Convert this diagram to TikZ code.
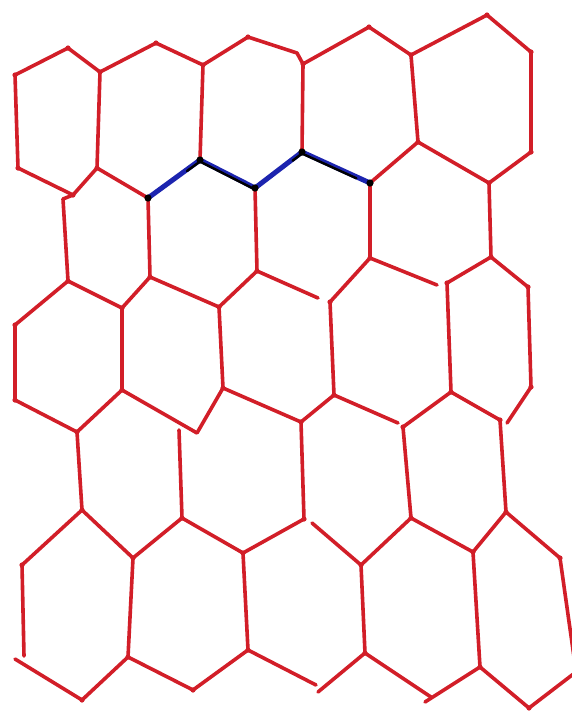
\documentclass[tikz,border=0pt]{standalone}
\usepackage{tikz}
\usetikzlibrary{calc}
\definecolor{inkred}{RGB}{210,30,40}
\definecolor{inkblue}{RGB}{28,36,175}
\tikzset{
  cell/.style={draw=inkred, line width=3.6pt, line join=round, line cap=round},
  bond/.style={draw=inkblue, line width=5pt, line join=round, line cap=round},
  bondblack/.style={draw=black, line width=2.4pt, line join=round, line cap=round},
}
\begin{document}
\begin{tikzpicture}[x=1pt,y=-1pt]
\useasboundingbox (0,0) rectangle (572,713);
\fill[white] (0,0) rectangle (572,713);
% ---- row A
\coordinate (A1t) at (68,48);
\coordinate (A2t) at (156,43);
\coordinate (A3t) at (248,37);
\coordinate (A4t) at (369,27);
\coordinate (A5t) at (487,15);
\coordinate (U0) at (15,75);
\coordinate (U1) at (100,72);
\coordinate (U2) at (203,65);
\coordinate (K3) at (297,53);
\coordinate (U3) at (303,64);
\coordinate (U4) at (411,55);
\coordinate (U5) at (531,52);
\coordinate (L0) at (18,168);
\coordinate (L1) at (97,168);
\coordinate (L2) at (200,160);
\coordinate (L3) at (302,152);
\coordinate (L4) at (418,142);
\coordinate (L5) at (531,152);
\coordinate (B0) at (73,195);
\coordinate (B0b) at (63,199);
\coordinate (B1) at (148,198);
\coordinate (B2) at (255,188);
\coordinate (B3) at (370,183);
\coordinate (B4) at (489,183);
% ---- row B
\coordinate (C0) at (68,281);
\coordinate (C1) at (150,277);
\coordinate (C2) at (257,271);
\coordinate (C3) at (370,258);
\coordinate (C4) at (491,257);
\coordinate (D0) at (15,325);
\coordinate (D1) at (122,308);
\coordinate (D2) at (219,307);
\coordinate (D3a) at (318,298);
\coordinate (D3b) at (330,302);
\coordinate (D4a) at (437,285);
\coordinate (D4b) at (447,283);
\coordinate (D5) at (528,287);
% ---- row C
\coordinate (E0) at (15,400);
\coordinate (E1) at (122,390);
\coordinate (E2) at (223,388);
\coordinate (E3) at (334,395);
\coordinate (E4) at (451,392);
\coordinate (E5) at (531,387);
\coordinate (F1) at (77,432);
\coordinate (F2a) at (197,433);
\coordinate (F2b) at (179,430);
\coordinate (F3) at (301,422);
\coordinate (F4a) at (398,423);
\coordinate (F4b) at (403,427);
\coordinate (F5a) at (500,420);
\coordinate (F5b) at (507,423);
% ---- row D
\coordinate (G1) at (82,510);
\coordinate (G2) at (182,518);
\coordinate (G3) at (304,519);
\coordinate (G3b) at (312,523);
\coordinate (G4) at (411,518);
\coordinate (G5) at (506,512);
\coordinate (H0) at (22,565);
\coordinate (H1) at (133,558);
\coordinate (H2) at (243,553);
\coordinate (H3) at (361,565);
\coordinate (H4) at (473,552);
\coordinate (H5) at (560,558);
% ---- row E
\coordinate (I0) at (24,656);
\coordinate (I1) at (128,657);
\coordinate (I2) at (248,650);
\coordinate (I3) at (365,653);
\coordinate (I4) at (480,667);
\coordinate (I5) at (575,664);
\coordinate (J0) at (15,659);
\coordinate (K1) at (82,700);
\coordinate (K2) at (193,690);
\coordinate (K3a) at (316,685);
\coordinate (K3b) at (318,692);
\coordinate (K4a) at (431,697);
\coordinate (K4b) at (425,702);
\coordinate (K5) at (529,708);
\coordinate (X5) at (576,672);

% ---- red honeycomb
\draw[cell] (U0) -- (A1t) -- (U1) -- (A2t) -- (U2) -- (A3t) -- (K3) -- (U3) -- (A4t) -- (U4) -- (A5t) -- (U5);
\draw[cell] (U0) -- (L0);
\draw[cell] (U1) -- (L1);
\draw[cell] (U2) -- (L2);
\draw[cell] (U3) -- (L3);
\draw[cell] (U4) -- (L4);
\draw[cell] (U5) -- (L5);
\draw[cell] (L0) -- (B0) -- (L1) -- (B1);
\draw[cell] (B0) -- (B0b);
\draw[cell] (B3) -- (L4) -- (B4) -- (L5);
\draw[cell] (B0b) -- (C0);
\draw[cell] (B1) -- (C1);
\draw[cell] (B2) -- (C2);
\draw[cell] (B3) -- (C3);
\draw[cell] (B4) -- (C4);
\draw[cell] (D0) -- (C0) -- (D1) -- (C1) -- (D2) -- (C2) -- (D3a);
\draw[cell] (D3b) -- (C3) -- (D4a);
\draw[cell] (D4b) -- (C4) -- (D5);
\draw[cell] (D0) -- (E0);
\draw[cell] (D1) -- (E1);
\draw[cell] (D2) -- (E2);
\draw[cell] (D3b) -- (E3);
\draw[cell] (D4b) -- (E4);
\draw[cell] (D5) -- (E5);
\draw[cell] (E0) -- (F1) -- (E1) -- (F2a) -- (E2) -- (F3) -- (E3) -- (F4a);
\draw[cell] (F4b) -- (E4) -- (F5a);
\draw[cell] (E5) -- (F5b);
\draw[cell] (F1) -- (G1);
\draw[cell] (F2b) -- (G2);
\draw[cell] (F3) -- (G3);
\draw[cell] (F4b) -- (G4);
\draw[cell] (F5a) -- (G5);
\draw[cell] (H0) -- (G1) -- (H1) -- (G2) -- (H2) -- (G3);
\draw[cell] (G3b) -- (H3) -- (G4) -- (H4) -- (G5) -- (H5);
\draw[cell] (H0) -- (I0);
\draw[cell] (H1) -- (I1);
\draw[cell] (H2) -- (I2);
\draw[cell] (H3) -- (I3);
\draw[cell] (H4) -- (I4);
\draw[cell] (H5) -- (I5);
\draw[cell] (J0) -- (K1) -- (I1) -- (K2) -- (I2) -- (K3a);
\draw[cell] (K3b) -- (I3) -- (K4a);
\draw[cell] (K4b) -- (I4) -- (K5) -- (X5);
\foreach \v in {A1t,A2t,A3t,A4t,A5t,U0,U1,U2,U3,U4,U5,L0,L1,L4,L5,B0,B4,C0,C1,C2,C3,C4,D0,D1,D2,D3b,D4b,D5,E0,E1,E2,E3,E4,E5,F1,F3,F4b,F5a,G1,G2,G3,G4,G5,H0,H1,H2,H3,H4,H5,K1,I1,K2,I2,I3,I4,K5}
  \fill[inkred] (\v) circle (2.6);

% ---- highlighted bond path (blue with black strokes over it)
\coordinate (M1) at ($(B1)!0.75!(L2)$);
\coordinate (M2) at ($(B2)!0.8!(L3)$);
\coordinate (M3) at ($(L3)!0.8!(B3)$);
\draw[bond] (B1) -- (L2) -- (B2) -- (L3) -- (B3);
\draw[bondblack] ([yshift=-1.5pt]M1) -- ([yshift=-1.5pt]L2) -- ([yshift=-1.5pt]B2);
\draw[bondblack] ([yshift=-1.5pt]M2) -- ([yshift=-1.5pt]L3) -- ([yshift=-1.5pt]M3);
\foreach \v in {B1,L2,B2,L3,B3}
  \fill[black] (\v) circle (3.6);
\end{tikzpicture}
\end{document}
